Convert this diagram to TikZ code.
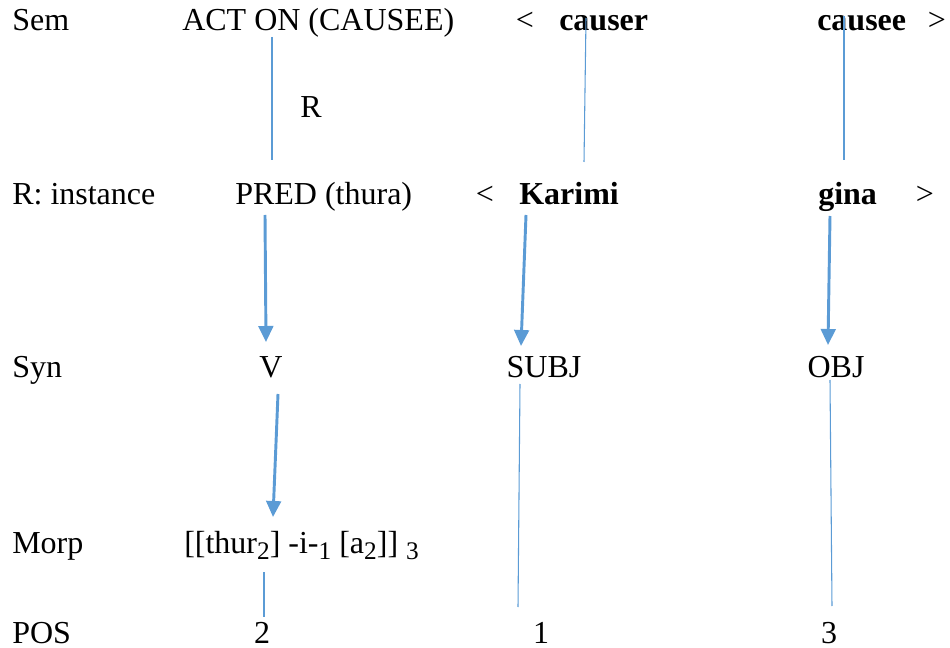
\documentclass[tikz,border=0pt]{standalone}
\usepackage{fontspec}
\setmainfont{Liberation Serif}
\usetikzlibrary{arrows.meta}
\definecolor{linkblue}{HTML}{5B9BD5}
% lowered, smaller index digits for the morphological string
\newcommand{\idx}[1]{\raisebox{-0.2em}{\fontsize{19}{19}\selectfont #1}}
\begin{document}
\begin{tikzpicture}[x=0.75pt,y=-0.75pt,
  lbl/.style={inner sep=0pt, anchor=base west, font=\fontsize{24}{28}\selectfont},
  ctr/.style={inner sep=0pt, anchor=base, font=\fontsize{24}{28}\selectfont},
  thinlink/.style={draw=linkblue, line width=0.8pt},
  arrowlink/.style={draw=linkblue, line width=2.2pt, -{Triangle[width=11pt,length=12pt]}}]
\useasboundingbox (0,0) rectangle (950,648);

% row labels
\node[lbl] (semlbl)  at (12,31)  {Sem};
\node[lbl] (rlbl)    at (12,205) {R: instance};
\node[lbl] (synlbl)  at (12,378) {Syn};
\node[lbl] (morplbl) at (12,553) {Morp};
\node[lbl] (poslbl)  at (12,643) {POS};

% semantic row
\node[lbl] (acton)  at (182,31) {ACT ON (CAUSEE)};
\node[ctr] (semlt)  at (525,31) {<};
\node[lbl] (causer) at (559,31) {\textbf{causer}};
\node[lbl] (causee) at (817,31) {\textbf{causee}};
\node[ctr] (semgt)  at (937,31) {>};
\node[ctr] (rmark)  at (311,118) {R};

% instance row
\node[lbl] (pred)   at (235,205) {PRED (thura)};
\node[ctr] (inslt)  at (485,205) {<};
\node[lbl] (karimi) at (519,205) {\textbf{Karimi}};
\node[lbl] (gina)   at (818,205) {\textbf{gina}};
\node[ctr] (insgt)  at (925,205) {>};

% syntax row
\node[ctr] (verb) at (271,378) {V};
\node[ctr] (subj) at (544,378) {SUBJ};
\node[ctr] (obj)  at (836,378) {OBJ};

% morphology row
\node[lbl] (morph) at (184,553) {[[thur\idx{2}] -i-\idx{1} [a\idx{2}]] \idx{3}};

% position row
\node[ctr] (pos2) at (262,643) {2};
\node[ctr] (pos1) at (541,643) {1};
\node[ctr] (pos3) at (829,643) {3};

% connector end points
\coordinate (acttop) at (272,37);   \coordinate (actbot) at (272,160);
\coordinate (csrtop) at (586,18);   \coordinate (csrbot) at (584,162);
\coordinate (cseetop) at (844,16);  \coordinate (cseebot) at (844,160);
\coordinate (predtop) at (265,215); \coordinate (predtip) at (266,342);
\coordinate (kartop) at (526,215);  \coordinate (kartip) at (521,346);
\coordinate (ginatop) at (830,216); \coordinate (ginatip) at (828,345);
\coordinate (vtop) at (278,394);    \coordinate (vtip) at (273,517);
\coordinate (mortop) at (264,572);  \coordinate (morbot) at (264,617);
\coordinate (subjtop) at (520,384); \coordinate (subjbot) at (518,607);
\coordinate (objtop) at (830,380);  \coordinate (objbot) at (832,606);

% semantic links
\draw[thinlink] (acttop) -- (actbot);
\draw[thinlink] (csrtop) -- (csrbot);
\draw[thinlink] (cseetop) -- (cseebot);

% realisation arrows
\draw[arrowlink] (predtop) -- (predtip);
\draw[arrowlink] (kartop) -- (kartip);
\draw[arrowlink] (ginatop) -- (ginatip);
\draw[arrowlink] (vtop) -- (vtip);

% position links
\draw[thinlink] (mortop) -- (morbot);
\draw[thinlink] (subjtop) -- (subjbot);
\draw[thinlink] (objtop) -- (objbot);
\end{tikzpicture}
\end{document}
